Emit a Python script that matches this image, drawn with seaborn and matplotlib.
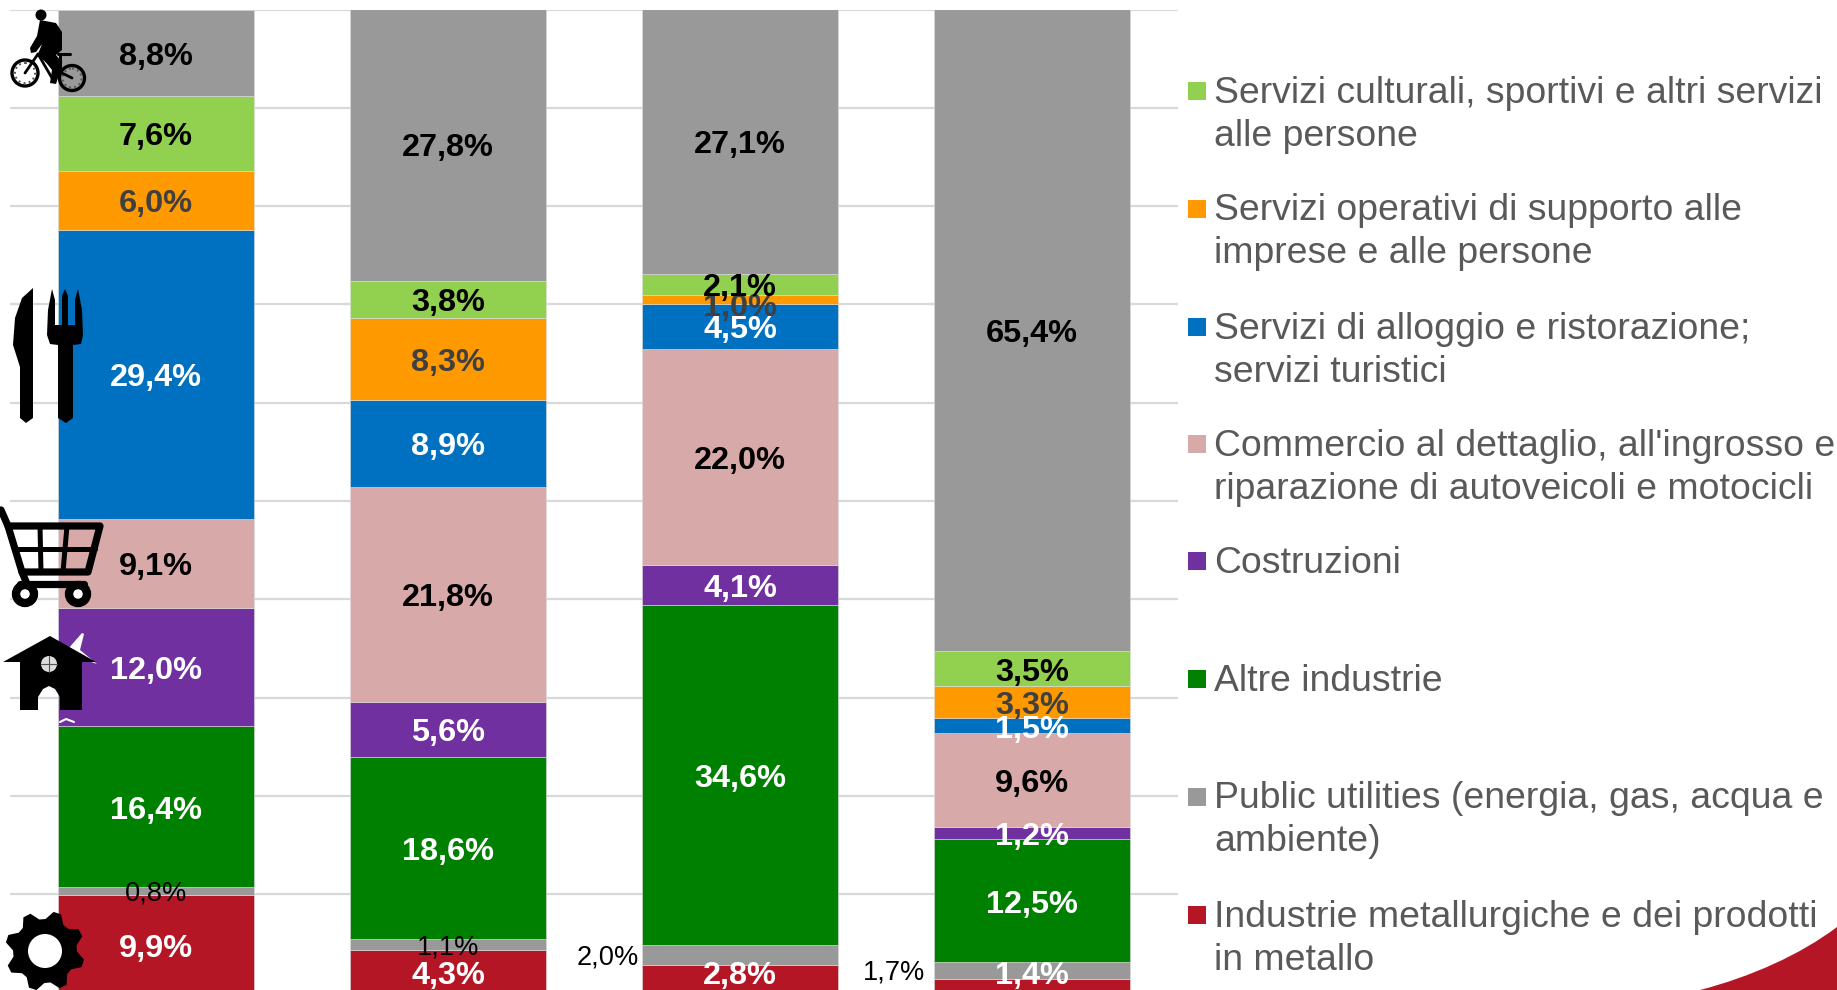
import numpy as np
import matplotlib
matplotlib.use('Agg')
import matplotlib.pyplot as plt
from matplotlib.patches import Polygon, Circle, Rectangle, PathPatch
from matplotlib.path import Path
import seaborn as sns

sns.set_theme(style='white')
plt.rcParams['font.family'] = ['Liberation Sans', 'DejaVu Sans']

# columns have no visible names in the source
columns = ['A', 'B', 'C', 'D']

# bottom to top
metal = [9.9, 4.3, 2.8, 1.4]
utilities = [0.8, 1.1, 2.0, 1.7]
altre = [16.4, 18.6, 34.6, 12.5]
costruzioni = [12.0, 5.6, 4.1, 1.2]
commercio = [9.1, 21.8, 22.0, 9.6]
alloggio = [29.4, 8.9, 4.5, 1.5]
operativi = [6.0, 8.3, 1.0, 3.3]
culturali = [7.6, 3.8, 2.1, 3.5]
altro = [8.8, 27.8, 27.1, 65.4]

series = [metal, utilities, altre, costruzioni, commercio, alloggio, operativi, culturali, altro]
colors = ['#B51626', '#999999', '#008000', '#7030A0', '#D8A9A9', '#0070C0', '#FF9900', '#92D050', '#999999']
label_colors = ['white', 'black', 'white', 'white', 'black', 'white', '#404040', 'black', 'black']

legend_labels = [
    'Servizi culturali, sportivi e altri servizi\nalle persone',
    'Servizi operativi di supporto alle\nimprese e alle persone',
    'Servizi di alloggio e ristorazione;\nservizi turistici',
    "Commercio al dettaglio, all'ingrosso e\nriparazione di autoveicoli e motocicli",
    'Costruzioni',
    'Altre industrie',
    'Public utilities (energia, gas, acqua e\nambiente)',
    'Industrie metallurgiche e dei prodotti\nin metallo',
]
legend_colors = ['#92D050', '#FF9900', '#0070C0', '#D8A9A9', '#7030A0', '#008000', '#999999', '#B51626']

W, H = 1837, 990
fig = plt.figure(figsize=(W / 100, H / 100), dpi=100, facecolor='white')
# plot area runs slightly past the bottom edge, bars get cut there
ax = fig.add_axes([10 / W, (H - 992.5) / H, 1168 / W, 983 / H])

bottom = np.zeros(4)
for vals, c in zip(series, colors):
    sns.barplot(x=columns, y=vals, bottom=bottom, color=c, saturation=1, width=0.668,
                edgecolor='#dddddd', linewidth=0.4, ax=ax, zorder=3)
    bottom = bottom + np.array(vals)

ax.set_xlim(-0.5, 3.5)
ax.set_ylim(0, 100)
ax.set_yticks(np.arange(0, 101, 10))
ax.set_xticks([])
ax.set_yticklabels([])
ax.set_xlabel('')
ax.set_ylabel('')
ax.grid(axis='y', color='#D9D9D9', lw=1.6)
ax.set_axisbelow(True)
sns.despine(ax=ax, left=True, bottom=True, top=True, right=True)

# small up/down shifts for labels moved by hand in the original
nudge = {(0, 0): -0.1, (2, 0): 0.7, (3, 0): 1.35, (1, 0): -0.1, (2, 6): -0.5}
# (column, series) labels that are plain weight
thin = {(0, 1), (1, 1)}
outside = {(2, 1): 0.346, (3, 1): 0.366}
text_drop = 0.4  # text centre sits a bit low in the original

bottom = np.zeros(4)
for s, vals in enumerate(series):
    for i, v in enumerate(vals):
        y = bottom[i] + v / 2 + nudge.get((i, s), 0) - text_drop
        txt = f'{v:.1f}%'.replace('.', ',')
        if (i, s) in outside:
            ax.text(i - outside[(i, s)], y + 0.2, txt, ha='right', va='center', fontsize=19.6, color='black', zorder=5)
        elif (i, s) in thin:
            ax.text(i, y + 0.15, txt, ha='center', va='center', fontsize=19.6, color='black', zorder=5)
        else:
            ax.text(i, y, txt, ha='center', va='center', fontsize=23.4, fontweight='bold',
                    color=label_colors[s], zorder=5)
    bottom = bottom + np.array(vals)

# overlay in pixels for legend, pictograms and corner shape
ov = fig.add_axes([0, 0, 1, 1], zorder=10)
ov.set_xlim(0, W)
ov.set_ylim(H, 0)
ov.axis('off')
ov.patch.set_alpha(0)

legend_y = [90, 207.5, 325.7, 443, 560, 678, 795.5, 914]
for y, lab, c in zip(legend_y, legend_labels, legend_colors):
    ov.add_patch(Rectangle((1188, y - 8), 18, 18, color=c, lw=0))
    ov.text(1214, y - 14, lab, ha='left', va='top', fontsize=26.9, color='#595959', linespacing=1.29)

# corner swoosh
verts = [(1700, 990), (1750, 977), (1800, 955), (1837, 927), (1837, 990), (1700, 990)]
codes = [Path.MOVETO, Path.CURVE4, Path.CURVE4, Path.CURVE4, Path.LINETO, Path.CLOSEPOLY]
ov.add_patch(PathPatch(Path(verts, codes), color='#B51626', lw=0))

# cyclist
for cx, cy, r in [(25, 73, 13), (72, 78, 12.5)]:
    ov.add_patch(Circle((cx, cy), r, fc='none', ec='black', lw=2.4))
    ov.add_patch(Circle((cx, cy), r - 3, fc='none', ec='#555555', lw=1.4, ls=':'))
ov.add_patch(Circle((41, 15), 5.5, color='black', lw=0))
ov.add_patch(Polygon([(40, 20), (56, 23), (62, 32), (62, 50), (56, 55), (62, 62), (60, 72), (56, 84), (50, 83),
                      (52, 70), (44, 60), (38, 54), (42, 44), (36, 52), (31, 53), (30, 48), (37, 36)],
                     color='black', lw=0))
ov.plot([25, 38, 60, 72], [73, 54, 72, 78], color='black', lw=2)
ov.plot([38, 52, 60], [54, 78, 72], color='black', lw=2)
ov.plot([58, 70], [54, 54], color='black', lw=2.2)
ov.plot([60, 60], [54, 72], color='black', lw=2.2)

# knife and fork
ov.add_patch(Polygon([(33, 288), (22, 298), (15, 318), (13, 345), (20, 367), (20, 418), (26, 423), (33, 418)],
                     color='black', lw=0))
ov.add_patch(Polygon([(52, 289), (55, 300), (55, 325), (62, 325), (62, 296), (65, 289), (68, 296), (68, 325),
                      (75, 325), (75, 300), (78, 289), (82, 310), (83, 335), (81, 344), (73, 345), (73, 418),
                      (66, 423), (58, 418), (58, 345), (50, 344), (47, 335), (48, 310)], color='black', lw=0))

# cart
ov.plot([1, 8, 22, 27], [510, 526, 572, 584], color='black', lw=5.2, solid_capstyle='round')
ov.plot([8, 100, 88, 22], [526, 526, 572, 572], color='black', lw=5.2, solid_joinstyle='round')
ov.plot([14, 95], [549, 549], color='black', lw=3.6)
ov.plot([40, 41], [526, 572], color='black', lw=3.6)
ov.plot([67, 63], [526, 572], color='black', lw=3.6)
ov.plot([20, 84], [584, 584], color='black', lw=5.2)
for cx in (25, 78):
    ov.add_patch(Circle((cx, 594), 9, fc='white', ec='black', lw=6))

# house
ov.add_patch(Polygon([(68, 649), (82, 633), (84, 634), (80, 650), (97, 664), (74, 656)], color='white', lw=0))
ov.add_patch(Polygon([(50, 636), (96, 662), (82, 662), (82, 710), (60, 710), (60, 697), (55, 689), (49, 686),
                      (43, 689), (38, 697), (38, 710), (20, 710), (20, 662), (3, 662)], color='black', lw=0))
ov.add_patch(Circle((49, 664), 8, color='#dddddd', lw=0))
ov.plot([41, 57], [664, 664], color='#555555', lw=0.8)
ov.plot([49, 49], [656, 672], color='#555555', lw=0.8)
ov.plot([60, 66, 74], [722, 719, 722], color='white', lw=1.5)

# gear
n = 8
ang = np.linspace(0, 2 * np.pi, n * 4, endpoint=False) + np.pi / n * 0.55
rad = np.tile([40, 40, 32, 32], n)
gear_pts = np.c_[45 + rad * np.cos(ang), 951 + rad * np.sin(ang)]
ov.add_patch(Polygon(gear_pts, color='black', lw=0))
ov.add_patch(Circle((45, 951), 17, color='white', lw=0))

fig.savefig('out.png', dpi=100)
